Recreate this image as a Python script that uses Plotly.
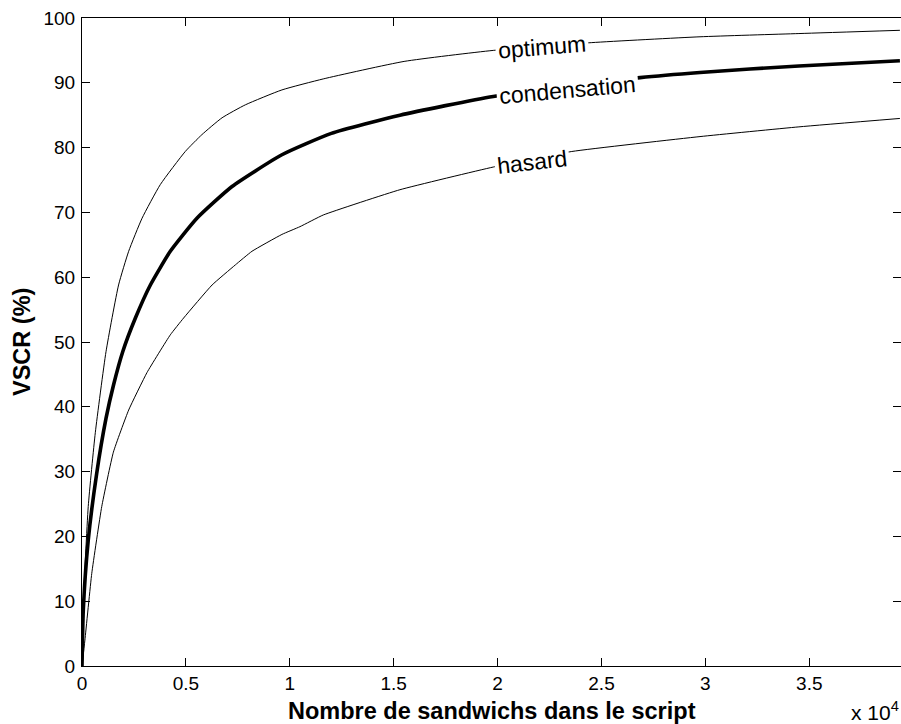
import plotly.graph_objects as go

# Nombre de sandwichs (abscisse) et VSCR (%) pour chaque stratégie
optimum_x = [0, 60, 300, 640, 1155, 1760, 2246, 2890, 3770, 4970, 5770, 6740,
             7860, 9620, 11610, 15500, 19790, 24530, 29740, 34500, 39360]
optimum_y = [0, 9.2, 24.6, 36.0, 48.5, 58.8, 64.0, 69.1, 74.3, 79.4, 82.0, 84.6,
             86.6, 88.9, 90.6, 93.3, 95.0, 96.2, 97.1, 97.6, 98.1]

condensation_x = [0, 60, 300, 707, 1155, 1520, 1960, 2570, 3290, 4250, 5530,
                  7220, 9620, 12000, 15300, 19790, 26860, 29740, 34500, 39360]
condensation_y = [0, 8.5, 19.4, 29.7, 38.2, 43.4, 48.5, 53.7, 58.8, 64.0, 69.1,
                  74.0, 78.9, 82.2, 85.0, 87.9, 90.8, 91.6, 92.6, 93.4]

hasard_x = [0, 140, 470, 950, 1510, 2246, 3130, 4250, 4890, 6260, 7380, 8180,
            9620, 10490, 11610, 15300, 19790, 23570, 29740, 34500, 39360]
hasard_y = [0, 4.0, 14.3, 24.6, 33.0, 39.5, 45.3, 51.1, 53.7, 58.8, 61.9, 64.0,
            66.6, 67.8, 69.6, 73.5, 77.0, 79.4, 81.7, 83.2, 84.5]

x_tickvals = [0, 5000, 10000, 15000, 20000, 25000, 30000, 35000]
x_ticktext = ["0", "0.5", "1", "1.5", "2", "2.5", "3", "3.5"]
y_tickvals = [0, 10, 20, 30, 40, 50, 60, 70, 80, 90, 100]

# Étiquettes des courbes : texte, position (données) et inclinaison
curve_labels = [
    ("optimum", 22137, 95.5, -4.5),
    ("condensation", 23340, 88.9, -5),
    ("hasard", 21655, 77.8, -6.5),
]

FONT = "Liberation Sans, Arial, Helvetica, sans-serif"
W, H = 901, 724
ML, MR, MT, MB = 82, 0, 18, 58
PW, PH = W - ML - MR, H - MT - MB

fig = go.Figure()
fig.add_trace(go.Scatter(x=optimum_x, y=optimum_y, mode="lines",
                         line=dict(color="black", width=1, shape="spline", smoothing=0.5),
                         name="optimum"))
fig.add_trace(go.Scatter(x=condensation_x, y=condensation_y, mode="lines",
                         line=dict(color="black", width=3.6, shape="spline", smoothing=0.5),
                         name="condensation"))
fig.add_trace(go.Scatter(x=hasard_x, y=hasard_y, mode="lines",
                         line=dict(color="black", width=1, shape="spline", smoothing=0.4),
                         name="hasard"))
# axe fantôme pour les graduations de droite
fig.add_trace(go.Scatter(x=[], y=[], yaxis="y2", showlegend=False))

for text, lx, ly, ang in curve_labels:
    fig.add_annotation(x=lx, y=ly, xref="x", yref="y", text=text, showarrow=False,
                       textangle=ang, bgcolor="white", borderpad=2,
                       font=dict(family=FONT, size=23, color="black"))

px2paper_x = lambda px: (px - ML) / PW
px2paper_y = lambda py: (H - MB - py) / PH

fig.add_annotation(x=px2paper_x(492), y=px2paper_y(711), xref="paper", yref="paper",
                   text="<b>Nombre de sandwichs dans le script</b>", showarrow=False,
                   xanchor="center", yanchor="middle",
                   font=dict(family=FONT, size=23.5, color="black"))
fig.add_annotation(x=px2paper_x(22), y=px2paper_y(342), xref="paper", yref="paper",
                   text="<b>VSCR (%)</b>", showarrow=False, textangle=-90,
                   xanchor="center", yanchor="middle",
                   font=dict(family=FONT, size=23.5, color="black"))
fig.add_annotation(x=px2paper_x(900), y=px2paper_y(725), xref="paper", yref="paper",
                   text="x 10<sup>4</sup>", showarrow=False,
                   xanchor="right", yanchor="bottom", borderpad=0,
                   font=dict(family=FONT, size=21, color="black"))

fig.update_layout(
    width=W, height=H,
    margin=dict(l=ML, r=MR, t=MT, b=MB, pad=0),
    paper_bgcolor="white", plot_bgcolor="white",
    showlegend=False,
    font=dict(family=FONT, size=19, color="black"),
    xaxis=dict(range=[0, 39413], tickvals=x_tickvals, ticktext=x_ticktext,
               ticks="inside", ticklen=8, tickwidth=1, tickcolor="black",
               showline=True, linecolor="black", linewidth=1, mirror="ticks",
               showgrid=False, zeroline=False, ticklabelstandoff=0),
    yaxis=dict(range=[0, 100], tickvals=y_tickvals,
               ticks="inside", ticklen=8, tickwidth=1, tickcolor="black",
               showline=True, linecolor="black", linewidth=1, mirror=False,
               showgrid=False, zeroline=False, ticklabelstandoff=2),
    yaxis2=dict(range=[0, 100], tickvals=y_tickvals, overlaying="y", side="right",
                ticks="inside", ticklen=8, tickwidth=1, tickcolor="black",
                showline=False, showticklabels=False, showgrid=False, zeroline=False),
)

fig.write_html("out.html")
